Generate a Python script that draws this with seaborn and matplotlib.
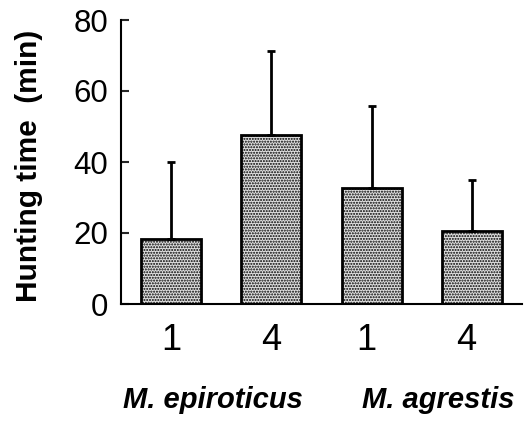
import matplotlib
matplotlib.use("Agg")
import matplotlib.pyplot as plt
import seaborn as sns
import pandas as pd
import numpy as np

categories = ["1", "4", "1 ", "4 "]
groups = ["M. epiroticus", "M. epiroticus", "M. agrestis", "M. agrestis"]
means = [18.3, 47.6, 32.7, 20.6]
sd_upper = [21.7, 23.7, 23.1, 14.4]
yticks = [0, 20, 40, 60, 80]
group_labels = ["M. epiroticus", "M. agrestis"]

sns.set_style("white")
plt.rcParams["font.family"] = ["Liberation Sans", "DejaVu Sans"]
plt.rcParams["hatch.linewidth"] = 1.0
plt.rcParams["hatch.color"] = "#6e6e6e"

df = pd.DataFrame({"cat": categories, "mean": means, "group": groups})

fig = plt.figure(figsize=(5.28, 4.22), dpi=100)
ax = fig.add_axes([121/528, 1-304/422, (522-121)/528, (304-20)/422])

sns.barplot(data=df, x="cat", y="mean", color="#e0e0e0", width=0.6,
            edgecolor="black", linewidth=2, ax=ax, errorbar=None, saturation=1)
for p in ax.patches:
    p.set_hatch("......")
xs = np.arange(len(categories))
ax.errorbar(xs, means, yerr=[np.zeros(len(means)), sd_upper], fmt="none",
            ecolor="black", elinewidth=2, capsize=3, capthick=2)

ax.set_xlim(-0.5, 3.5)
ax.set_ylim(0, 80)
ax.set_yticks(yticks)
ax.set_yticklabels([str(t) for t in yticks], fontsize=22.5, color="black")
ax.tick_params(axis="y", direction="in", length=6, width=1.5, pad=9, left=True)
ax.tick_params(axis="x", length=0, pad=14, labelsize=26, labelcolor="black")
ax.set_xlabel("")
ax.set_ylabel("")
for s in ["top", "right"]:
    ax.spines[s].set_visible(False)
for s in ["left", "bottom"]:
    ax.spines[s].set_linewidth(1.5)
    ax.spines[s].set_color("black")

fig.text(29/528, 1-166/422, "Hunting time  (min)", rotation=90, fontsize=21.5,
         fontweight="bold", ha="center", va="center", color="black")
fig.text(213/528, 1-400/422, group_labels[0], fontsize=21, fontweight="bold",
         fontstyle="italic", ha="center", va="center", color="black")
fig.text(438/528, 1-400/422, group_labels[1], fontsize=21, fontweight="bold",
         fontstyle="italic", ha="center", va="center", color="black")

fig.savefig("out.png", dpi=100)
